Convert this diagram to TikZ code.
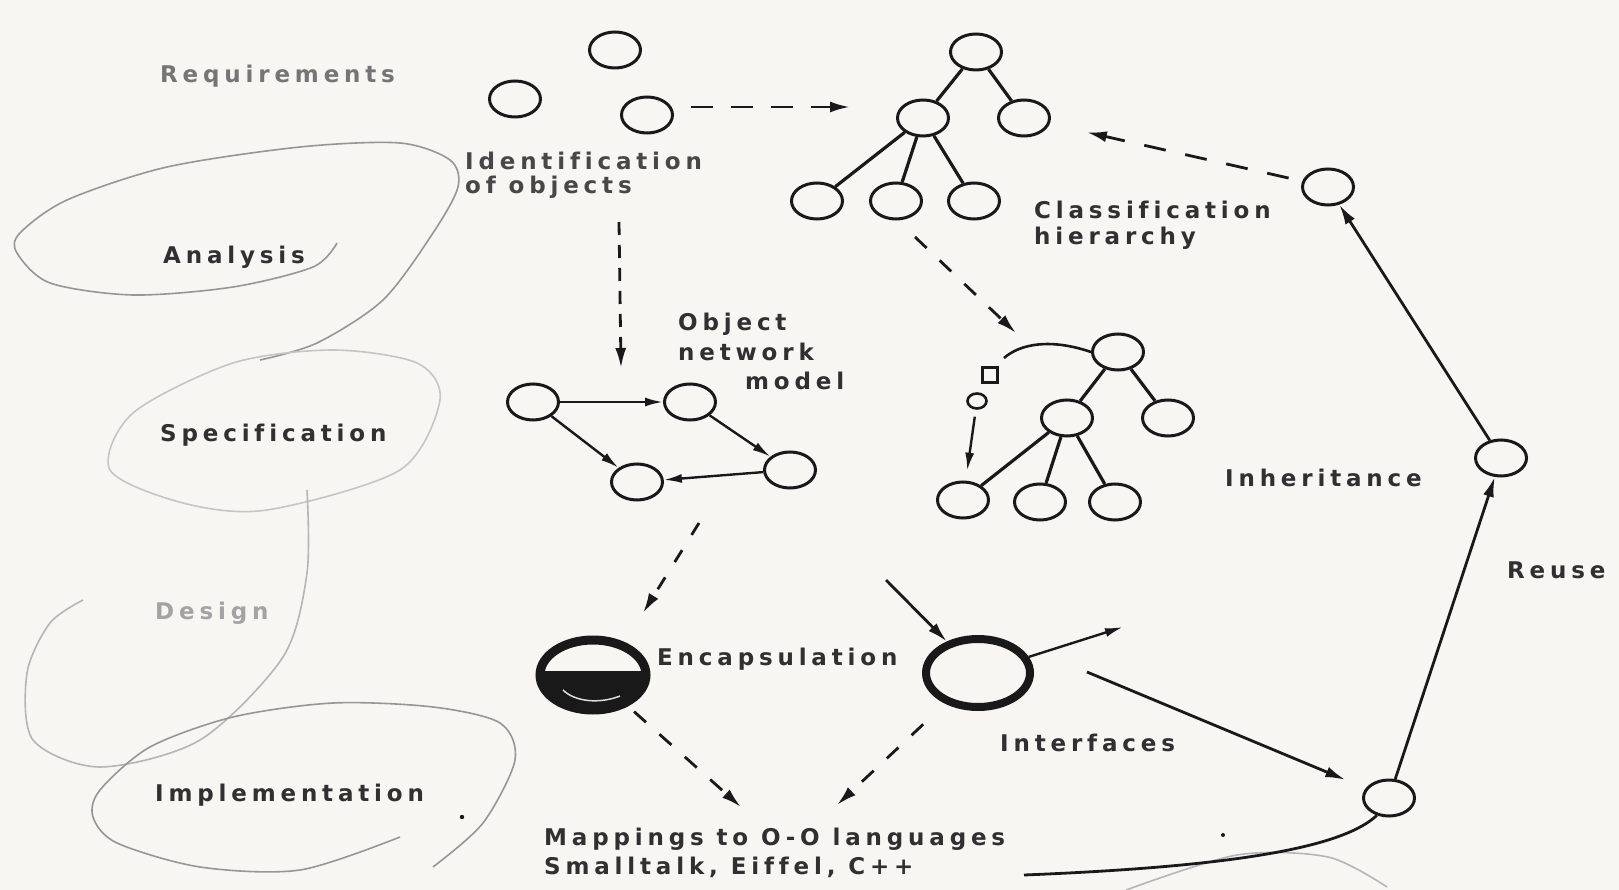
\documentclass[tikz,border=0pt]{standalone}
\usepackage{fontspec}
\newfontfamily\lab[LetterSpace=21,Ligatures=NoCommon]{DejaVu Sans Bold}
\usetikzlibrary{arrows.meta,shapes.geometric}
\definecolor{bg}{RGB}{247,246,243}
\definecolor{sk}{RGB}{150,150,150}
\definecolor{ink}{RGB}{25,25,25}
\begin{document}
\begin{tikzpicture}[x=1pt,y=-1pt,
  obj/.style={ellipse,draw=ink,line width=3pt,minimum width=51pt,minimum height=36pt,inner sep=0pt},
  lbl/.style={anchor=west,inner sep=0pt,text=ink!90,font=\lab\fontsize{23}{27}\selectfont},
  tl/.style={draw=ink,line width=3.2pt},
  arr/.style={draw=ink,-{Latex[length=20pt,width=11pt]},line width=2.8pt},
  narr/.style={draw=ink,-{Latex[length=18pt,width=9pt]},line width=2.4pt},
  darr/.style={arr,dash pattern=on 18pt off 14pt},
  sketch/.style={draw=sk,line width=1.6pt}]
\fill[bg] (0,0) rectangle (1619,890);
\useasboundingbox (0,0) rectangle (1619,890);

% faint pencil loops
\draw[sketch] plot[smooth] coordinates {(337,243) (313,267) (233,287) (133,295) (50,283) (17,253) (20,233) (67,200) (167,167) (300,147) (400,143) (450,160) (458,187) (433,233) (383,300) (317,343) (260,360)};
\draw[sketch,draw=sk!55] plot[smooth cycle] coordinates {(110,470) (133,413) (233,363) (333,350) (417,363) (440,400) (400,470) (267,510) (183,503)};
\draw[sketch,draw=sk!70] plot[smooth] coordinates {(307,490) (307,573) (283,657) (200,740) (100,767) (33,740) (27,673) (50,623) (83,600)};
\draw[sketch] plot[smooth] coordinates {(400,837) (300,870) (200,867) (117,843) (93,817) (100,790) (150,747) (233,717) (333,703) (433,707) (500,723) (515,760) (483,823) (433,867)};
\draw[sketch,draw=sk!70] plot[smooth] coordinates {(1126,890) (1237,855) (1328,857) (1387,887)};
\fill[ink] (462,817) circle (2.2pt);
\fill[ink] (1223,835) circle (2pt);

% phase labels
\node[lbl,text=ink!60] (lreq) at (160,76) {Requirements};
\node[lbl] (lana) at (163,257) {Analysis};
\node[lbl] (lspec) at (160,435) {Specification};
\node[lbl,text=ink!40] (ldes) at (155,613) {Design};
\node[lbl] (limp) at (155,795) {Implementation};

% identified objects
\node[obj] (q1) at (615,50) {};
\node[obj] (q2) at (515,99) {};
\node[obj] (q3) at (647,115) {};
\node[lbl,text=ink!80] (lid1) at (465,161) {Identification};
\node[lbl,text=ink!80] (lid2) at (465,187) {of objects};

% classification hierarchy
\node[obj] (t0) at (976,52) {};
\node[obj] (t1) at (923,118) {};
\node[obj] (t2) at (1024,118) {};
\node[obj] (t3) at (817,201) {};
\node[obj] (t4) at (896,201) {};
\node[obj] (t5) at (974,201) {};
\draw[tl] (t0) -- (t1);
\draw[tl] (t0) -- (t2);
\draw[tl] (t1) -- (t3);
\draw[tl] (t1) -- (t4);
\draw[tl] (t1) -- (t5);
\node[lbl] (lcl1) at (1034,210) {Classification};
\node[lbl] (lcl2) at (1034,238) {hierarchy};

\coordinate (h1) at (691,107);
\coordinate (h2) at (850,107);
\draw[darr,dash pattern=on 22pt off 18pt] (h1) -- (h2);

% vertical dashed to network
\coordinate (v1) at (619,222);
\coordinate (v2) at (621,368);
\draw[darr,dash pattern=on 13pt off 10pt] (v1) -- (v2);

% object network model
\node[lbl] (lon1) at (678,324) {Object};
\node[lbl] (lon2) at (678,352) {network};
\node[lbl] (lon3) at (745,381) {model};
\node[obj] (n1) at (533,402) {};
\node[obj] (n2) at (690,402) {};
\node[obj] (n3) at (790,470) {};
\node[obj] (n4) at (637,482) {};
\draw[narr] (n1) -- (n2);
\draw[narr] (n2) -- (n3);
\draw[narr] (n1) -- (n4);
\draw[narr] (n3) -- (n4);

% inheritance tree
\coordinate (d1) at (915,237);
\coordinate (d2) at (1016,333);
\draw[darr,dash pattern=on 16pt off 18pt] (d1) -- (d2);
\node[obj] (i0) at (1118,352) {};
\node[obj] (i1) at (1067,418) {};
\node[obj] (i2) at (1168,418) {};
\node[obj] (i3) at (963,500) {};
\node[obj] (i4) at (1040,502) {};
\node[obj] (i5) at (1115,502) {};
\draw[tl] (i0) -- (i1);
\draw[tl] (i0) -- (i2);
\draw[tl] (i1) -- (i3);
\draw[tl] (i1) -- (i4);
\draw[tl] (i1) -- (i5);
\coordinate (ae) at (1004,358);
\draw[ink,line width=2.6pt] (i0.west) .. controls (1050,338) and (1020,344) .. (ae);
\node[draw=ink,line width=3pt,minimum size=15pt,inner sep=0pt] (sq) at (990,375) {};
\node[ellipse,draw=ink,line width=2.6pt,minimum width=19pt,minimum height=15pt,inner sep=0pt] (sc) at (977,401) {};
\draw[narr,shorten <=7pt,shorten >=10pt] (sc) -- (i3);
\node[lbl] (linh) at (1225,478) {Inheritance};

% encapsulation and interfaces
\coordinate (e1) at (699,523);
\coordinate (e2) at (643,613);
\draw[darr,dash pattern=on 14pt off 18pt] (e1) -- (e2);
\node[ellipse,draw=ink,line width=9pt,minimum width=106pt,minimum height=70pt,inner sep=0pt,
  path picture={\fill[ink] ([yshift=4pt]path picture bounding box.west) rectangle (path picture bounding box.south east);}] (enc) at (593,675) {};
\draw[white!85!ink,line width=1.5pt] (563,690) .. controls (575,702) and (600,704) .. (620,696);
\node[lbl] (lenc) at (657,659) {Encapsulation};

\coordinate (f1) at (886,580);
\node[ellipse,draw=ink,line width=8pt,minimum width=104pt,minimum height=68pt,inner sep=0pt] (ifc) at (978,673) {};
\draw[arr] (f1) -- (ifc);
\coordinate (f2) at (1123,627);
\draw[narr] (ifc) -- (f2);
\node[lbl] (lifc) at (1000,743) {Interfaces};

% mappings
\coordinate (m1) at (741,807);
\coordinate (m2) at (837,805);
\draw[darr,dash pattern=on 16pt off 18pt,shorten <=8pt] (enc) -- (m1);
\draw[darr,dash pattern=on 16pt off 18pt,shorten <=30pt] (ifc) -- (m2);
\node[lbl] (lmap1) at (544,839) {Mappings to O-O languages};
\node[lbl] (lmap2) at (544,867) {Smalltalk, Eiffel, C++};

% reuse cycle
\node[obj] (br) at (1389,798) {};
\node[obj] (mr) at (1501,458) {};
\node[obj] (ur) at (1328,187) {};
\coordinate (g1) at (1087,672);
\draw[arr,shorten >=22pt] (g1) -- (br);
\draw[arr] (br) -- (mr);
\draw[arr] (mr) -- (ur);
\draw[darr,dash pattern=on 22pt off 20pt,shorten <=14pt,shorten >=38pt] (ur) -- (t2);
\node[lbl] (lreu) at (1507,570) {Reuse};
\coordinate (cv) at (1024,875);
\draw[ink,line width=2.8pt] (br.235) .. controls (1345,845) and (1250,866) .. (cv);
\end{tikzpicture}
\end{document}
